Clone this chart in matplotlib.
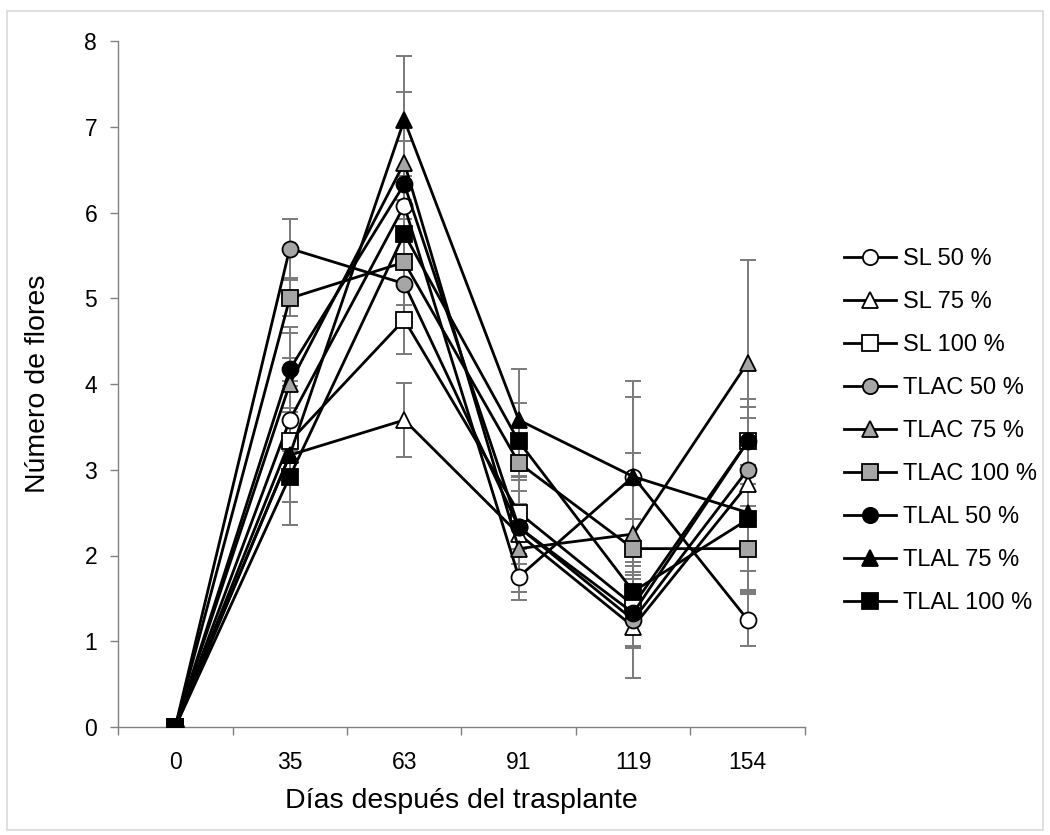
import matplotlib
matplotlib.use("Agg")
import matplotlib.pyplot as plt
from matplotlib.patches import Rectangle
from matplotlib.lines import Line2D

plt.rcParams['font.family'] = ['Liberation Sans', 'DejaVu Sans']

days = ["0", "35", "63", "91", "119", "154"]
series_names = ["SL 50 %", "SL 75 %", "SL 100 %",
                "TLAC 50 %", "TLAC 75 %", "TLAC 100 %",
                "TLAL 50 %", "TLAL 75 %", "TLAL 100 %"]

sl50 = [0, 3.58, 6.08, 1.75, 2.92, 1.25]
sl75 = [0, 3.17, 3.58, 2.25, 1.17, 2.83]
sl100 = [0, 3.33, 4.75, 2.50, 1.42, 3.33]
tlac50 = [0, 5.58, 5.17, 2.33, 1.25, 3.00]
tlac75 = [0, 4.00, 6.58, 2.08, 2.25, 4.25]
tlac100 = [0, 5.00, 5.42, 3.08, 2.08, 2.08]
tlal50 = [0, 4.17, 6.33, 2.33, 1.33, 3.33]
tlal75 = [0, 3.17, 7.08, 3.58, 2.92, 2.50]
tlal100 = [0, 2.92, 5.75, 3.33, 1.58, 2.42]

err_sl50 = [0, 0.45, 0.35, 0.27, 1.11, 0.30]
err_sl75 = [0, 0.55, 0.43, 0.35, 0.60, 0.50]
err_sl100 = [0, 0.97, 0.40, 0.42, 0.50, 0.40]
err_tlac50 = [0, 0.34, 0.35, 0.75, 0.30, 0.60]
err_tlac75 = [0, 0.59, 0.83, 0.50, 0.95, 1.20]
err_tlac100 = [0, 0.21, 0.50, 0.33, 0.35, 0.50]
err_tlal50 = [0, 0.50, 0.50, 0.60, 0.40, 0.50]
err_tlal75 = [0, 0.81, 0.74, 0.60, 0.93, 0.90]
err_tlal100 = [0, 0.30, 0.40, 0.45, 0.30, 0.60]

values = [sl50, sl75, sl100, tlac50, tlac75, tlac100, tlal50, tlal75, tlal100]
errors = [err_sl50, err_sl75, err_sl100, err_tlac50, err_tlac75, err_tlac100,
          err_tlal50, err_tlal75, err_tlal100]

WHITE, GREY, BLACK = "#ffffff", "#a6a6a6", "#000000"
markers = ["o", "^", "s"] * 3
fills = [WHITE] * 3 + [GREY] * 3 + [BLACK] * 3

fig = plt.figure(figsize=(10.5, 8.35), dpi=100)
fig.patches.append(Rectangle((7 / 1050, 5 / 835), 1036 / 1050, 819 / 835,
                             transform=fig.transFigure, fill=False,
                             edgecolor="#d9d9d9", linewidth=1.2))
ax = fig.add_axes([118 / 1050, (835 - 727) / 835, (805 - 118) / 1050, (727 - 41) / 835])

x = list(range(len(days)))
for i, (vals, errs) in enumerate(zip(values, errors)):
    ax.errorbar(x, vals, yerr=errs, fmt="none", ecolor="#7a7a7a",
                elinewidth=1.4, capsize=6, capthick=1.4, zorder=1)
for i, vals in enumerate(values):
    ax.plot(x, vals, color="black", linewidth=2.0, marker=markers[i],
            markersize=11.5, markerfacecolor=fills[i],
            markeredgecolor="black", markeredgewidth=1.3,
            zorder=3 + i, label=series_names[i])

ax.set_xlim(-0.5, len(days) - 0.5)
ax.set_ylim(0, 8)
ax.set_yticks(range(0, 9))
ax.set_xticks(x)
ax.set_xticklabels(days)
ax.set_xticks([i - 0.5 for i in range(len(days) + 1)], minor=True)
ax.tick_params(axis="x", which="major", length=0, labelsize=16.5, pad=17)
ax.tick_params(axis="x", which="minor", length=6, color="#808080", width=1)
ax.tick_params(axis="y", length=6, color="#808080", width=1, labelsize=16.5, pad=9)
for s in ["top", "right"]:
    ax.spines[s].set_visible(False)
for s in ["left", "bottom"]:
    ax.spines[s].set_color("#808080")
    ax.spines[s].set_linewidth(1.0)

ax.set_xlabel("Días después del trasplante", fontsize=20.5, labelpad=10)
ax.set_ylabel("Número de flores", fontsize=20.5, labelpad=24)

leg_handles = [Line2D([0], [0], color="black", linewidth=2.0, marker=markers[i],
                      markersize=11, markerfacecolor=fills[i],
                      markeredgecolor="black", markeredgewidth=1.3)
               for i in range(len(series_names))]
fig.legend(leg_handles, series_names, loc="upper left",
           bbox_to_anchor=(844 / 1050, (835 - 248) / 835),
           frameon=False, fontsize=17, handlelength=2.2, handletextpad=0.3,
           labelspacing=0.89, borderaxespad=0, borderpad=0)

fig.savefig("out.png", dpi=100)
